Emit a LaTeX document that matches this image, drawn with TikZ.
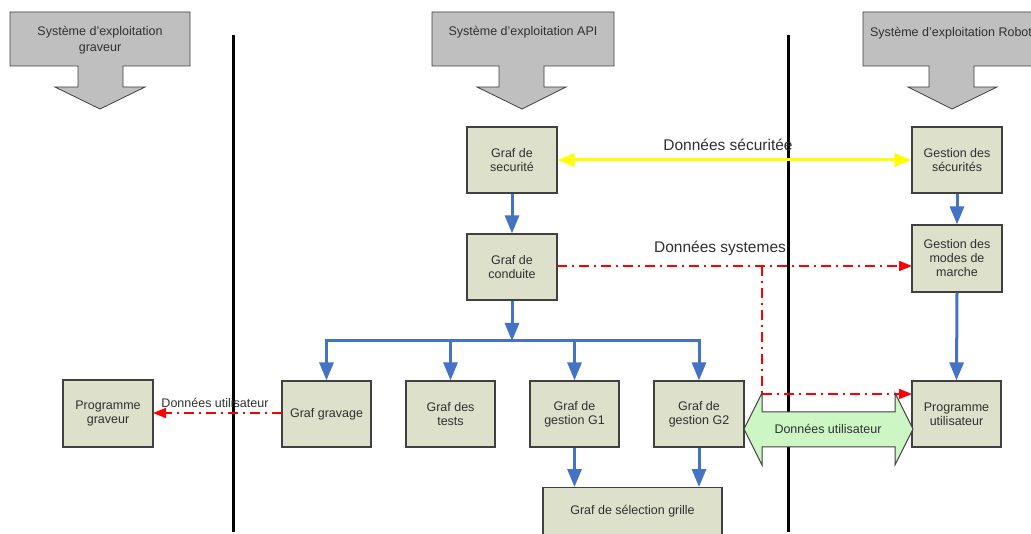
\documentclass[tikz,border=0pt]{standalone}
\usepackage{fontspec}
\setmainfont{Liberation Sans}
\usetikzlibrary{arrows.meta}
\definecolor{boxfill}{HTML}{DDE0CB}
\definecolor{boxline}{HTML}{404040}
\definecolor{flowblue}{HTML}{4472C4}
\definecolor{osgrey}{HTML}{BFBFBF}
\definecolor{txt}{HTML}{303030}
\definecolor{greenfill}{HTML}{CCF7C4}
\definecolor{flowyellow}{HTML}{FFFF00}
\begin{document}
\begin{tikzpicture}[x=1pt,y=-1pt,
  box/.style={draw=boxline, line width=1.2pt, fill=boxfill, minimum width=90pt, minimum height=66pt,
    align=center, font=\fontsize{12.5}{14}\selectfont, text=txt, inner sep=0pt},
  osarrow/.style={draw=boxline, line width=0.8pt, fill=osgrey},
  ostext/.style={align=center, font=\fontsize{12.5}{16}\selectfont, text=txt, inner sep=0pt},
  sepline/.style={line width=3pt, black},
  blueflow/.style={draw=flowblue, line width=3pt, -{Triangle[width=14pt,length=18pt]}},
  yellowflow/.style={draw=flowyellow, line width=3pt, {Triangle[width=13pt,length=17pt]}-{Triangle[width=13pt,length=17pt]}},
  redflow/.style={draw=red, line width=1.5pt, dash pattern=on 10pt off 5pt on 2pt off 5pt, -{Triangle[width=10pt,length=13pt]}},
  biglabel/.style={font=\fontsize{15.5}{18}\selectfont, text=txt, inner sep=0pt},
  smalllabel/.style={font=\fontsize{12.5}{14}\selectfont, text=txt, inner sep=0pt},
  greenarrow/.style={draw=boxline, line width=1pt, fill=greenfill}
]
\useasboundingbox (0,0) rectangle (1031,534);
\fill[white] (0,0) rectangle (1031,534);
\clip (0,0) rectangle (1031,534);

% separators
\draw[sepline] (233,35) -- (233,532);
\draw[sepline] (788,35) -- (788,532);

% operating system arrows
\draw[osarrow] (10,12) -- (190,12) -- (190,66) -- (123,66) -- (123,87) -- (145,87) -- (100,109)
  -- (55,87) -- (78,87) -- (78,66) -- (10,66) -- cycle;
\node[ostext] (osg) at (100,40) {Système d’exploitation\\graveur};
\draw[osarrow] (432,12) -- (614,12) -- (614,66) -- (544,66) -- (544,87) -- (566,87) -- (522,109)
  -- (477,87) -- (499,87) -- (499,66) -- (432,66) -- cycle;
\node[ostext] (osa) at (523,32) {Système d’exploitation API};
\draw[osarrow] (863,12) -- (1045,12) -- (1045,66) -- (974,66) -- (974,87) -- (997,87) -- (952,109)
  -- (908,87) -- (929,87) -- (929,66) -- (863,66) -- cycle;
\node[ostext] (osr) at (951,33) {Système d’exploitation Robot};

% boxes
\node[box] (sec) at (512,160) {Graf de\\securité};
\node[box] (cond) at (512,267) {Graf de\\conduite};
\node[box] (gsec) at (957,160) {Gestion des\\sécurités};
\node[box, minimum height=67pt] (modes) at (957,258.5) {Gestion des\\modes de\\marche};
\node[box, minimum width=89pt] (progu) at (956.5,414) {Programme\\utilisateur};
\node[box, minimum width=89pt] (grav) at (326.5,414) {Graf gravage};
\node[box, minimum width=89pt] (tests) at (450.5,414) {Graf des\\tests};
\node[box, minimum width=89pt] (g1) at (574.5,414) {Graf de\\gestion G1};
\node[box] (g2) at (699,414) {Graf de\\gestion G2};
\node[box, minimum height=67pt] (progg) at (108,413.5) {Programme\\graveur};
\node[box, minimum width=179pt, minimum height=66pt, anchor=north] (sel) at (632.5,487) {};
\node[smalllabel] (seltext) at (632.5,511) {Graf de sélection grille};

% blue flows
\draw[blueflow] (sec.south) -- (cond.north);
\coordinate (bus) at (512,341);
\draw[blueflow] (cond.south) -- (bus);
\draw[blueflow] (bus) -| (grav.north);
\draw[blueflow] (bus) -| (g2.north);
\draw[blueflow] (tests.north |- bus) -- (tests.north);
\draw[blueflow] (g1.north |- bus) -- (g1.north);
\draw[blueflow] (gsec.south) -- (modes.north);
\draw[blueflow] (modes.south) -- (progu.north);
\draw[blueflow] (g1.south) -- (g1.south |- sel.north);
\draw[blueflow] (g2.south) -- (g2.south |- sel.north);

% yellow safety data
\draw[yellowflow] (sec.east) -- (gsec.west);
\node[biglabel] (lsec) at (728,145) {Données sécuritée};

% red system data
\coordinate (csys) at (557,266);
\coordinate (msys) at (912,266);
\coordinate (split) at (762,266);
\coordinate (pin) at (912,394);
\draw[redflow] (csys) -- (msys);
\draw[redflow, -] (split) -- (split |- pin);
\draw[redflow] (split |- pin) -- (pin);
\node[biglabel] (lsys) at (720,248) {Données systemes};

% red user data to engraver
\coordinate (gout) at (282,413);
\coordinate (pgin) at (153,413);
\draw[redflow] (gout) -- (pgin);
\node[smalllabel] (luser) at (215,403) {Données utilisateur};

% green user data double arrow
\draw[greenarrow] (744,429) -- (762,393) -- (762,412) -- (895,412) -- (895,393) -- (913,429)
  -- (895,465) -- (895,447) -- (762,447) -- (762,465) -- cycle;
\node[smalllabel] (guser) at (828,429) {Données utilisateur};
\end{tikzpicture}
\end{document}
